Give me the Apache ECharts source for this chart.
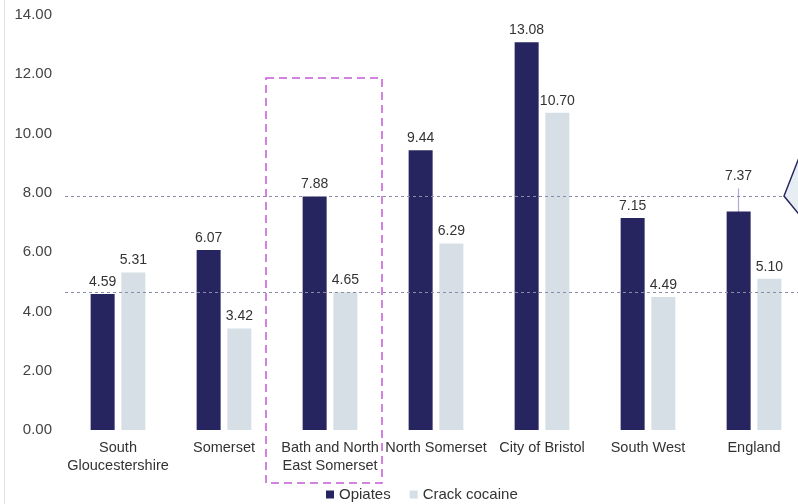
<!DOCTYPE html>
<html>
<head>
<meta charset="utf-8">
<script src="https://cdn.jsdelivr.net/npm/echarts@6/dist/echarts.min.js"></script>
<style>html,body{margin:0;padding:0;background:#fff;}#c{width:798px;height:504px;}</style>
</head>
<body>
<div id="c"></div>
<script>
const categories = ['South\nGloucestershire', 'Somerset', 'Bath and North\nEast Somerset', 'North Somerset', 'City of Bristol', 'South West', 'England'];
const opiates = [4.59, 6.07, 7.88, 9.44, 13.08, 7.15, 7.37];
const crack = [5.31, 3.42, 4.65, 6.29, 10.70, 4.49, 5.10];
const errorBars = [[6, 6.6, 8.15, 7.37]]; // [categoryIndex, low, high, label]
const refLines = [7.88, 4.65];
const yTicks = [0, 2, 4, 6, 8, 10, 12, 14];

const font = 'Liberation Sans';
const navy = '#27255f';
const light = '#d5dfe5';

const chart = echarts.init(document.getElementById('c'), null, {renderer: 'canvas'});
chart.setOption({
  animation: false,
  textStyle: {fontFamily: font},
  grid: {left: 65, right: -9, top: 15, bottom: 74, containLabel: false, outerBoundsMode: 'none'},
  legend: {
    bottom: -3, left: 321, icon: 'rect', itemWidth: 8, itemHeight: 8, itemGap: 19, itemTextGap: 3,
    textStyle: {fontSize: 15, color: '#333', fontFamily: font},
    data: ['Opiates', 'Crack cocaine']
  },
  xAxis: {
    type: 'category', data: categories,
    axisLine: {show: false}, axisTick: {show: false},
    axisLabel: {fontSize: 14.5, color: '#333', margin: 9, lineHeight: 18, interval: 0}
  },
  yAxis: {
    type: 'value', min: yTicks[0], max: yTicks[yTicks.length - 1], interval: 2,
    splitLine: {show: false}, axisLine: {show: false}, axisTick: {show: false},
    axisLabel: {fontSize: 15, color: '#444', margin: 13, formatter: v => v.toFixed(2)}
  },
  series: [
    {
      name: 'Opiates', type: 'bar', z: 3,
      data: opiates.map((v, i) => ({value: v, label: {show: i !== 6}})),
      itemStyle: {color: navy},
      barWidth: 24, barGap: '28%',
      label: {show: true, position: 'top', distance: 5, fontSize: 14, color: '#333', formatter: p => p.value.toFixed(2)},
      markLine: {
        silent: true, symbol: 'none', label: {show: false},
        lineStyle: {color: '#8a8ca8', type: [3, 3], width: 1},
        data: refLines.map(v => ({yAxis: v}))
      }
    },
    {
      name: 'Crack cocaine', type: 'bar', z: 3,
      data: crack,
      itemStyle: {color: light},
      barWidth: 24,
      label: {show: true, position: 'top', distance: 5, fontSize: 14, color: '#333', formatter: p => p.value.toFixed(2)}
    },
    {
      type: 'custom', z: 2,
      data: errorBars,
      renderItem: function (params, api) {
        const band = api.size([1, 0])[0];
        const off = -15.5 / 106 * band;
        const lo = api.coord([api.value(0), api.value(1)]);
        const hi = api.coord([api.value(0), api.value(2)]);
        const x = lo[0] + off;
        return {
          type: 'group',
          children: [
            {type: 'line', shape: {x1: x, y1: lo[1], x2: x, y2: hi[1]}, style: {stroke: '#aeaad6', lineWidth: 1.2}},
            {type: 'text', style: {text: api.value(3).toFixed(2), x: x, y: hi[1] - 5, textAlign: 'center', textVerticalAlign: 'bottom', fontSize: 14, fill: '#333', fontFamily: font}}
          ]
        };
      }
    }
  ],
  graphic: [
    {
      type: 'rect', z: 10,
      shape: {x: 266, y: 78, width: 116, height: 405},
      style: {fill: 'none', stroke: '#c45bd6', lineWidth: 1.5, lineDash: [8, 5]}
    },
    {
      type: 'polygon', z: 10,
      shape: {points: [[802, 150], [784, 196], [802, 218]]},
      style: {fill: '#e6edf3', stroke: '#27255f', lineWidth: 1.5}
    },
    {
      type: 'line', z: 1,
      shape: {x1: 4.5, y1: 0, x2: 4.5, y2: 504},
      style: {stroke: '#e4e4e4', lineWidth: 1}
    }
  ]
});
</script>
</body>
</html>
